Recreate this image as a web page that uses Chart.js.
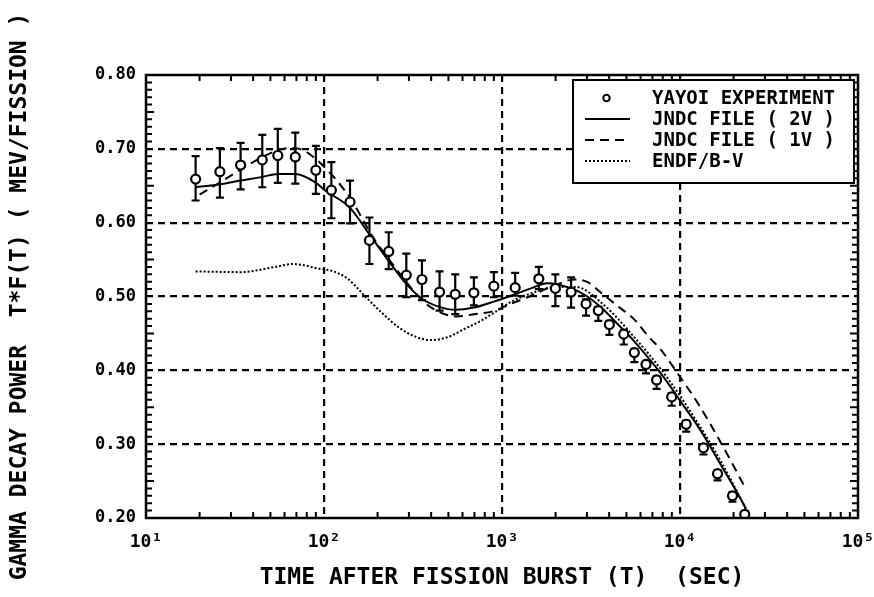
<!DOCTYPE html>
<html><head><meta charset="utf-8">
<script src="https://cdn.jsdelivr.net/npm/chart.js@4.4.0/dist/chart.umd.min.js"></script>
<style>html,body{margin:0;padding:0;background:#fff;}canvas{display:block;}</style>
</head><body>
<canvas id="c" width="874" height="597"></canvas>
<script>
// ---- axis ticks ----
const xTickValues = [10, 100, 1000, 10000, 100000];
const xTickLabels = ['10¹', '10²', '10³', '10⁴', '10⁵'];
const yTickLabels = ['0.20', '0.30', '0.40', '0.50', '0.60', '0.70', '0.80'];
const xTitle = 'TIME AFTER FISSION BURST (T)  (SEC)';
const yTitle = 'GAMMA DECAY POWER  T*F(T) ( MEV/FISSION )';

// ---- series labels ----
const seriesLabels = ['YAYOI EXPERIMENT', 'JNDC FILE ( 2V )', 'JNDC FILE ( 1V )', 'ENDF/B-V'];

// ---- experiment (YAYOI) ----
const expTime = [19, 26, 34, 45, 55, 69, 90, 110, 140, 180, 231, 290, 355, 446, 546, 695, 900, 1186, 1610, 1995, 2445, 2966, 3476, 4010, 4830, 5540, 6440, 7390, 8980, 10840, 13550, 16250, 19720, 23100];
const expValue = [0.659, 0.669, 0.678, 0.685, 0.691, 0.689, 0.671, 0.644, 0.628, 0.576, 0.561, 0.529, 0.523, 0.506, 0.503, 0.505, 0.514, 0.512, 0.524, 0.511, 0.506, 0.490, 0.481, 0.462, 0.449, 0.424, 0.408, 0.387, 0.364, 0.327, 0.295, 0.260, 0.230, 0.205];
const expErrUp = [0.031, 0.032, 0.030, 0.034, 0.036, 0.033, 0.033, 0.038, 0.029, 0.031, 0.026, 0.029, 0.026, 0.028, 0.027, 0.021, 0.019, 0.020, 0.016, 0.019, 0.020, 0.006, 0.005, 0.005, 0.005, 0.005, 0.005, 0.005, 0.005, 0.005, 0.005, 0.005, 0.005, 0.004];
const expErrDown = [0.029, 0.035, 0.033, 0.037, 0.037, 0.036, 0.032, 0.038, 0.029, 0.032, 0.024, 0.030, 0.028, 0.025, 0.027, 0.017, 0.015, 0.011, 0.014, 0.024, 0.021, 0.016, 0.014, 0.014, 0.014, 0.013, 0.012, 0.012, 0.012, 0.010, 0.009, 0.009, 0.008, 0.004];

// ---- JNDC FILE (2V) solid ----
const jndc2vTime = [19, 26, 34, 45, 55, 69, 89, 101, 140, 180, 231, 290, 355, 445, 545, 696, 900, 1186, 1455, 1800, 2450, 2970, 3610, 4450, 5500, 6840, 8480, 10000, 13100, 16950, 21900, 23400];
const jndc2vValue = [0.648, 0.652, 0.657, 0.662, 0.666, 0.666, 0.655, 0.644, 0.620, 0.584, 0.548, 0.517, 0.497, 0.486, 0.482, 0.485, 0.493, 0.503, 0.511, 0.518, 0.511, 0.501, 0.485, 0.463, 0.440, 0.413, 0.384, 0.359, 0.318, 0.272, 0.226, 0.213];

// ---- JNDC FILE (1V) dashed ----
const jndc1vTime = [20, 25, 31, 38, 46, 55, 65, 75, 85, 97, 120, 143, 191, 239, 296, 366, 445, 552, 700, 890, 1120, 1390, 1890, 2560, 3050, 3600, 4470, 5530, 6590, 7860, 9750, 12630, 17150, 23000];
const jndc1vValue = [0.638, 0.652, 0.666, 0.679, 0.690, 0.698, 0.701, 0.699, 0.691, 0.679, 0.655, 0.630, 0.578, 0.546, 0.517, 0.492, 0.479, 0.473, 0.476, 0.480, 0.490, 0.499, 0.513, 0.523, 0.519, 0.505, 0.487, 0.469, 0.447, 0.427, 0.395, 0.355, 0.300, 0.243];

// ---- ENDF/B-V dotted ----
const endfTime = [19, 34, 53, 67, 97, 110, 136, 169, 209, 260, 323, 400, 496, 614, 760, 943, 1170, 1450, 2010, 2600, 3600, 5530, 8480, 13100, 16950, 23500];
const endfValue = [0.534, 0.533, 0.540, 0.544, 0.537, 0.535, 0.524, 0.501, 0.479, 0.459, 0.446, 0.441, 0.445, 0.456, 0.467, 0.481, 0.495, 0.504, 0.513, 0.513, 0.492, 0.445, 0.390, 0.322, 0.277, 0.212];

const toXY = (ts, vs) => ts.map((t, i) => ({x: t, y: vs[i]}));
const MONO = '"DejaVu Sans Mono", monospace';

const errorBars = {
  id: 'errorBars',
  beforeDatasetDraw(chart, args) {
    if (args.index !== 0) return;
    const {ctx, scales: {x, y}} = chart;
    ctx.save();
    ctx.strokeStyle = '#000';
    ctx.lineWidth = 2.2;
    ctx.setLineDash([]);
    expTime.forEach((t, i) => {
      const px = x.getPixelForValue(t);
      const top = y.getPixelForValue(expValue[i] + expErrUp[i]);
      const bot = y.getPixelForValue(expValue[i] - expErrDown[i]);
      ctx.beginPath();
      ctx.moveTo(px, top); ctx.lineTo(px, bot);
      ctx.moveTo(px - 4, top); ctx.lineTo(px + 4, top);
      ctx.moveTo(px - 4, bot); ctx.lineTo(px + 4, bot);
      ctx.stroke();
    });
    ctx.restore();
  }
};

const frameTicks = {
  id: 'frameTicks',
  afterDraw(chart) {
    const {ctx, chartArea: a, scales: {x, y}} = chart;
    ctx.save();
    ctx.strokeStyle = '#000';
    ctx.setLineDash([]);
    ctx.lineWidth = 2;
    ctx.beginPath();
    for (let d = xTickValues[0]; d < xTickValues[xTickValues.length - 1]; d *= 10) {
      for (let m = 2; m <= 9; m++) {
        const px = x.getPixelForValue(d * m);
        ctx.moveTo(px, a.bottom); ctx.lineTo(px, a.bottom - 6);
        ctx.moveTo(px, a.top); ctx.lineTo(px, a.top + 6);
      }
    }
    for (let k = 21; k < 80; k++) {
      if (k % 10 === 0) continue;
      const py = y.getPixelForValue(k / 100);
      const len = (k % 5 === 0) ? 8 : 6;
      ctx.moveTo(a.left, py); ctx.lineTo(a.left + len, py);
      ctx.moveTo(a.right, py); ctx.lineTo(a.right - len, py);
    }
    ctx.stroke();
    ctx.lineWidth = 2.5;
    ctx.strokeRect(a.left, a.top, a.right - a.left, a.bottom - a.top);
    ctx.restore();
  }
};

const legendBox = {
  id: 'legendBox',
  afterDraw(chart) {
    const {ctx, chartArea: a} = chart;
    const w = 281, h = 103;
    const left = a.right - w - 4, top = a.top + 5;
    ctx.save();
    ctx.fillStyle = '#fff';
    ctx.fillRect(left, top, w, h);
    ctx.strokeStyle = '#000';
    ctx.lineWidth = 2;
    ctx.setLineDash([]);
    ctx.strokeRect(left, top, w, h);
    ctx.font = 'bold 19px ' + MONO;
    ctx.textBaseline = 'middle';
    ctx.textAlign = 'left';
    ctx.fillStyle = '#000';
    chart.data.datasets.forEach((ds, i) => {
      const cy = top + 18 + i * 21;
      const sx = left + 12, ex = left + 57;
      if (ds.showLine === false) {
        ctx.setLineDash([]);
        ctx.lineWidth = 2;
        ctx.beginPath();
        ctx.arc((sx + ex) / 2 - 1, cy, 3.2, 0, Math.PI * 2);
        ctx.stroke();
      } else {
        ctx.setLineDash(ds.borderDash || []);
        ctx.lineWidth = ds.borderWidth;
        ctx.beginPath();
        ctx.moveTo(sx, cy); ctx.lineTo(ex, cy);
        ctx.stroke();
      }
      ctx.fillText(ds.label, left + 79, cy + 1);
    });
    ctx.restore();
  }
};

const edgeClear = (lo, hi) => (c) => (c.tick && (c.tick.value <= lo * 1.0001 || c.tick.value >= hi * 0.9999)) ? 'rgba(0,0,0,0)' : '#000';

new Chart(document.getElementById('c'), {
  type: 'line',
  data: {
    datasets: [
      {
        label: seriesLabels[0],
        data: toXY(expTime, expValue),
        showLine: false,
        pointStyle: 'circle',
        pointRadius: 4.5,
        pointBorderWidth: 2.2,
        pointBorderColor: '#000',
        pointBackgroundColor: '#fff',
        borderColor: '#000',
        borderWidth: 2
      },
      {
        label: seriesLabels[1],
        data: toXY(jndc2vTime, jndc2vValue),
        borderColor: '#000',
        borderWidth: 2,
        pointRadius: 0,
        cubicInterpolationMode: 'monotone',
        fill: false
      },
      {
        label: seriesLabels[2],
        data: toXY(jndc1vTime, jndc1vValue),
        borderColor: '#000',
        borderWidth: 2,
        borderDash: [9, 6],
        pointRadius: 0,
        cubicInterpolationMode: 'monotone',
        fill: false
      },
      {
        label: seriesLabels[3],
        data: toXY(endfTime, endfValue),
        borderColor: '#000',
        borderWidth: 2,
        borderDash: [2, 2],
        pointRadius: 0,
        cubicInterpolationMode: 'monotone',
        fill: false
      }
    ]
  },
  options: {
    responsive: false,
    animation: false,
    devicePixelRatio: 1,
    layout: {padding: {left: 0, top: 75, right: 16, bottom: 0}},
    plugins: {legend: {display: false}, tooltip: {enabled: false}},
    scales: {
      x: {
        type: 'logarithmic',
        min: xTickValues[0],
        max: xTickValues[xTickValues.length - 1],
        afterBuildTicks: (s) => { s.ticks = xTickValues.map(v => ({value: v})); },
        afterFit: (s) => { s.height = 79; s.paddingLeft = 0; s.paddingRight = 0; },
        ticks: {
          autoSkip: false, maxRotation: 0, padding: 14, color: '#000',
          font: {family: MONO, size: 18, weight: 'bold'},
          callback: (v, i) => xTickLabels[i]
        },
        grid: {color: edgeClear(10, 100000), lineWidth: 2.2, drawTicks: false},
        border: {display: false, dash: [7, 5]},
        title: {display: true, text: xTitle, color: '#000', padding: {top: 4, bottom: 5},
          font: {family: MONO, size: 23, weight: 'bold'}}
      },
      y: {
        type: 'linear',
        min: 0.2, max: 0.8,
        afterFit: (s) => { s.width = 146; s.paddingTop = 0; s.paddingBottom = 0; },
        ticks: {
          stepSize: 0.1, padding: 10, color: '#000',
          font: {family: MONO, size: 17, weight: 'bold'},
          callback: (v, i) => yTickLabels[i]
        },
        grid: {color: edgeClear(0.2, 0.8), lineWidth: 2.2, drawTicks: false},
        border: {display: false, dash: [7, 5]},
        title: {display: true, text: yTitle, color: '#000', padding: {top: 6, bottom: 4},
          font: {family: MONO, size: 23, weight: 'bold'}}
      }
    }
  },
  plugins: [errorBars, frameTicks, legendBox]
});
</script>
</body></html>
